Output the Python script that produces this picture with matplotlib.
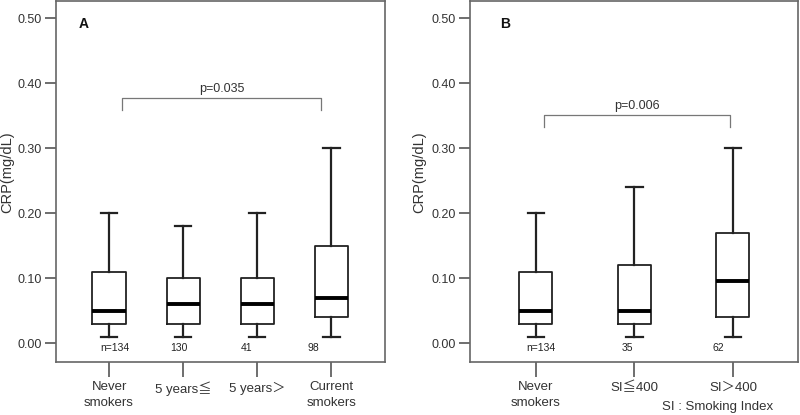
import matplotlib
matplotlib.use("Agg")
import matplotlib.pyplot as plt

plt.rcParams['font.family'] = ['Liberation Sans', 'Noto Sans CJK JP', 'DejaVu Sans']

# ---- data ----
cats_a = ["Never\nsmokers", "5 years≦", "5 years＞", "Current\nsmokers"]
wlo_a = [0.01, 0.01, 0.01, 0.01]
q1_a = [0.03, 0.03, 0.03, 0.04]
med_a = [0.05, 0.06, 0.06, 0.07]
q3_a = [0.11, 0.10, 0.10, 0.15]
whi_a = [0.20, 0.18, 0.20, 0.30]
n_a = ["n=134", "130", "41", "98"]
p_a = "p=0.035"

cats_b = ["Never\nsmokers", "SI≦400", "SI＞400"]
wlo_b = [0.01, 0.01, 0.01]
q1_b = [0.03, 0.03, 0.04]
med_b = [0.05, 0.05, 0.095]
q3_b = [0.11, 0.12, 0.17]
whi_b = [0.20, 0.24, 0.30]
n_b = ["n=134", "35", "62"]
p_b = "p=0.006"

yticks = [0.0, 0.1, 0.2, 0.3, 0.4, 0.5]

fig = plt.figure(figsize=(8, 4.15), dpi=100)
axA = fig.add_axes([0.07, 0.1277, 0.411, 0.871])
axB = fig.add_axes([0.5875, 0.1277, 0.41, 0.871])


def draw(ax, cats, wlo, q1, med, q3, whi, nlab, noff, width, capw, xlim, ptxt, pspan, py, letter, lx):
    stats = []
    for i in range(len(cats)):
        stats.append(dict(whislo=wlo[i], q1=q1[i], med=med[i], q3=q3[i], whishi=whi[i], fliers=[]))
    pos = list(range(len(cats)))
    ax.bxp(stats, positions=pos, widths=width, showfliers=False, capwidths=capw,
           boxprops=dict(color='#222222', linewidth=1.3),
           whiskerprops=dict(color='#222222', linewidth=1.6),
           capprops=dict(color='#222222', linewidth=1.6),
           medianprops=dict(color='black', linewidth=2.8, solid_capstyle='butt'))
    ax.set_xlim(*xlim)
    ax.set_ylim(-0.029, 0.527)
    ax.set_yticks(yticks)
    ax.set_yticklabels([f"{v:.2f}" for v in yticks], fontsize=9, color='#333333')
    ax.set_xticks(pos)
    ax.set_xticklabels(cats, fontsize=9.5, color='#333333', linespacing=1.35)
    ax.tick_params(axis='y', length=8, width=1.2, color='#555555', pad=2)
    ax.tick_params(axis='x', length=11, width=1.2, color='#555555', pad=3)
    for s in ax.spines.values():
        s.set_color('#666666')
        s.set_linewidth(1.2)
    ax.set_ylabel("CRP(mg/dL)", fontsize=10.5, color='#333333')
    for i, t in enumerate(nlab):
        ax.text(pos[i] + noff[i], -0.008, t, fontsize=7.5, ha='left', va='center',
                color='#222222')
    # p bracket
    x0, x1 = pspan
    ax.plot([x0, x0, x1, x1], [py - 0.019, py, py, py - 0.019], color='#777777', lw=0.9)
    ax.text((x0 + x1) / 2, py + 0.004, ptxt, ha='center', va='bottom', fontsize=9, color='#333333')
    ax.text(lx, 0.936, letter, transform=ax.transAxes, fontsize=10, fontweight='bold',
            ha='left', va='center', color='#111111')


draw(axA, cats_a, wlo_a, q1_a, med_a, q3_a, whi_a, n_a, [-0.12, -0.18, -0.23, -0.32],
     0.45, 0.22, (-0.716, 3.72), p_a, (0.18, 2.86), 0.377, "A", 0.07)
draw(axB, cats_b, wlo_b, q1_b, med_b, q3_b, whi_b, n_b, [-0.10, -0.13, -0.21],
     0.335, 0.163, (-0.67, 2.66), p_b, (0.08, 1.97), 0.351, "B", 0.091)

axA.yaxis.set_label_coords(-0.128, 0.525)
axB.yaxis.set_label_coords(-0.132, 0.525)

fig.text(0.8275, 0.019, "SI : Smoking Index", fontsize=9.5, color='#333333', ha='left', va='center')

fig.savefig("out.png", dpi=100)
